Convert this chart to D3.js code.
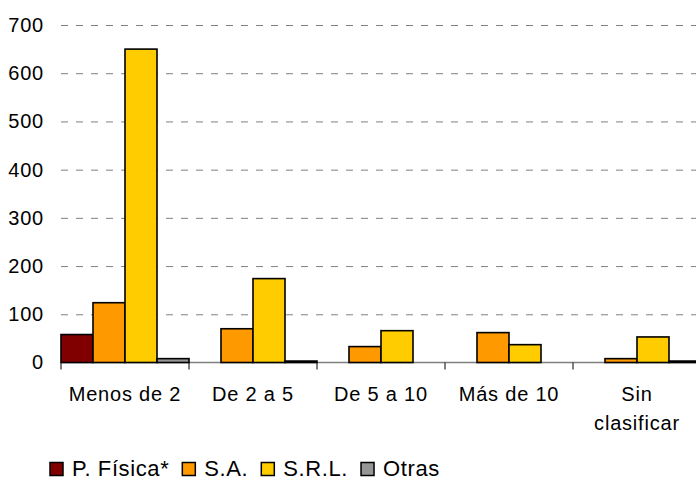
<!DOCTYPE html>
<html>
<head>
<meta charset="utf-8">
<script src="https://cdn.jsdelivr.net/npm/d3@7"></script>
<style>
  html, body { margin: 0; padding: 0; background: #fff; overflow: hidden; }
  svg { display: block; }
  text { font-family: "Liberation Sans", Arial, sans-serif; fill: #000; }
</style>
</head>
<body>
<svg id="chart" width="696" height="480"></svg>
<script>
const categories = ["Menos de 2", "De 2 a 5", "De 5 a 10", "Más de 10", "Sin clasificar"];
const seriesNames = ["P. Física*", "S.A.", "S.R.L.", "Otras"];
const pFisica = [58, 0, 0, 0, 0];
const sa = [124, 70, 33, 62, 8];
const srl = [650, 174, 66, 37, 53];
const otras = [8, 3, 0, 0, 3];
const yTicks = [0, 100, 200, 300, 400, 500, 600, 700];
const colors = ["#800000", "#FF9900", "#FFCC00", "#969696"];

const seriesValues = [pFisica, sa, srl, otras];

const svg = d3.select("#chart");
const mLeft = 61, mRight = 701, mTop = 25, mBottom = 362.5;
const fontSize = 20;

const x = d3.scaleBand().domain(categories).range([mLeft, mRight]).padding(0);
const xs = d3.scaleBand().domain(seriesNames).range([0, x.bandwidth()]).padding(0);
const y = d3.scaleLinear().domain([0, 700]).range([mBottom, mTop]);

// gridlines
const grid = svg.append("g").attr("transform", `translate(${mLeft},0)`)
  .call(d3.axisLeft(y).tickValues(yTicks.filter(d => d > 0)).tickSize(-(mRight - mLeft)).tickFormat(""));
grid.select(".domain").remove();
grid.selectAll("line").attr("stroke", "#808080").attr("stroke-width", 1).attr("stroke-dasharray", "7,8");

// y labels
const yAxis = svg.append("g").attr("transform", `translate(${mLeft},0)`)
  .call(d3.axisLeft(y).tickValues(yTicks).tickSize(0).tickPadding(17));
yAxis.select(".domain").remove();
yAxis.selectAll("text").attr("font-size", fontSize).attr("font-family", "Liberation Sans, Arial, sans-serif")
  .attr("fill", "#000").attr("letter-spacing", "0.8px");

// bars
const rows = [];
categories.forEach((c, i) => {
  seriesNames.forEach((s, j) => {
    const v = seriesValues[j][i];
    if (v > 0) rows.push({ c, s, v, j });
  });
});

// x axis line (under bars)
const xAxis = svg.append("g");
xAxis.append("line").attr("x1", mLeft).attr("x2", mRight).attr("y1", y(0)).attr("y2", y(0))
  .attr("stroke", "#808080").attr("stroke-width", 1.3);
const edges = categories.map(c => x(c)).concat([x(categories[categories.length - 1]) + x.bandwidth()]);
xAxis.selectAll("line.tick").data(edges).join("line").attr("class", "tick")
  .attr("x1", d => d).attr("x2", d => d).attr("y1", y(0)).attr("y2", y(0) + 7)
  .attr("stroke", "#000").attr("stroke-width", 1);

svg.append("g").selectAll("rect").data(rows).join("rect")
  .attr("x", d => x(d.c) + xs(d.s))
  .attr("width", xs.bandwidth())
  .attr("y", d => y(d.v))
  .attr("height", d => y(0) - y(d.v))
  .attr("fill", d => colors[d.j])
  .attr("stroke", "#000")
  .attr("stroke-width", 1.6);

// category labels
const labelLines = { "Sin clasificar": ["Sin", "clasificar"] };
categories.forEach(c => {
  const lines = labelLines[c] || [c];
  const t = svg.append("text").attr("x", x(c) + x.bandwidth() / 2).attr("y", 401)
    .attr("text-anchor", "middle").attr("font-size", fontSize).attr("letter-spacing", "0.8px");
  lines.forEach((l, k) => {
    t.append("tspan").attr("x", x(c) + x.bandwidth() / 2).attr("dy", k === 0 ? 0 : 29).text(l);
  });
});

// legend
const lg = svg.append("g");
let lx = 50;
const sq = 13, gapText = 9, gapItem = 13;
seriesNames.forEach((s, j) => {
  lg.append("rect").attr("x", lx).attr("y", 462.5).attr("width", sq).attr("height", sq)
    .attr("fill", colors[j]).attr("stroke", "#000").attr("stroke-width", 1.5);
  const t = lg.append("text").attr("x", lx + sq + gapText).attr("y", 475.5)
    .attr("font-size", 22).attr("letter-spacing", "0.6px").text(s);
  lx = lx + sq + gapText + t.node().getComputedTextLength() + gapItem;
});
</script>
</body>
</html>
